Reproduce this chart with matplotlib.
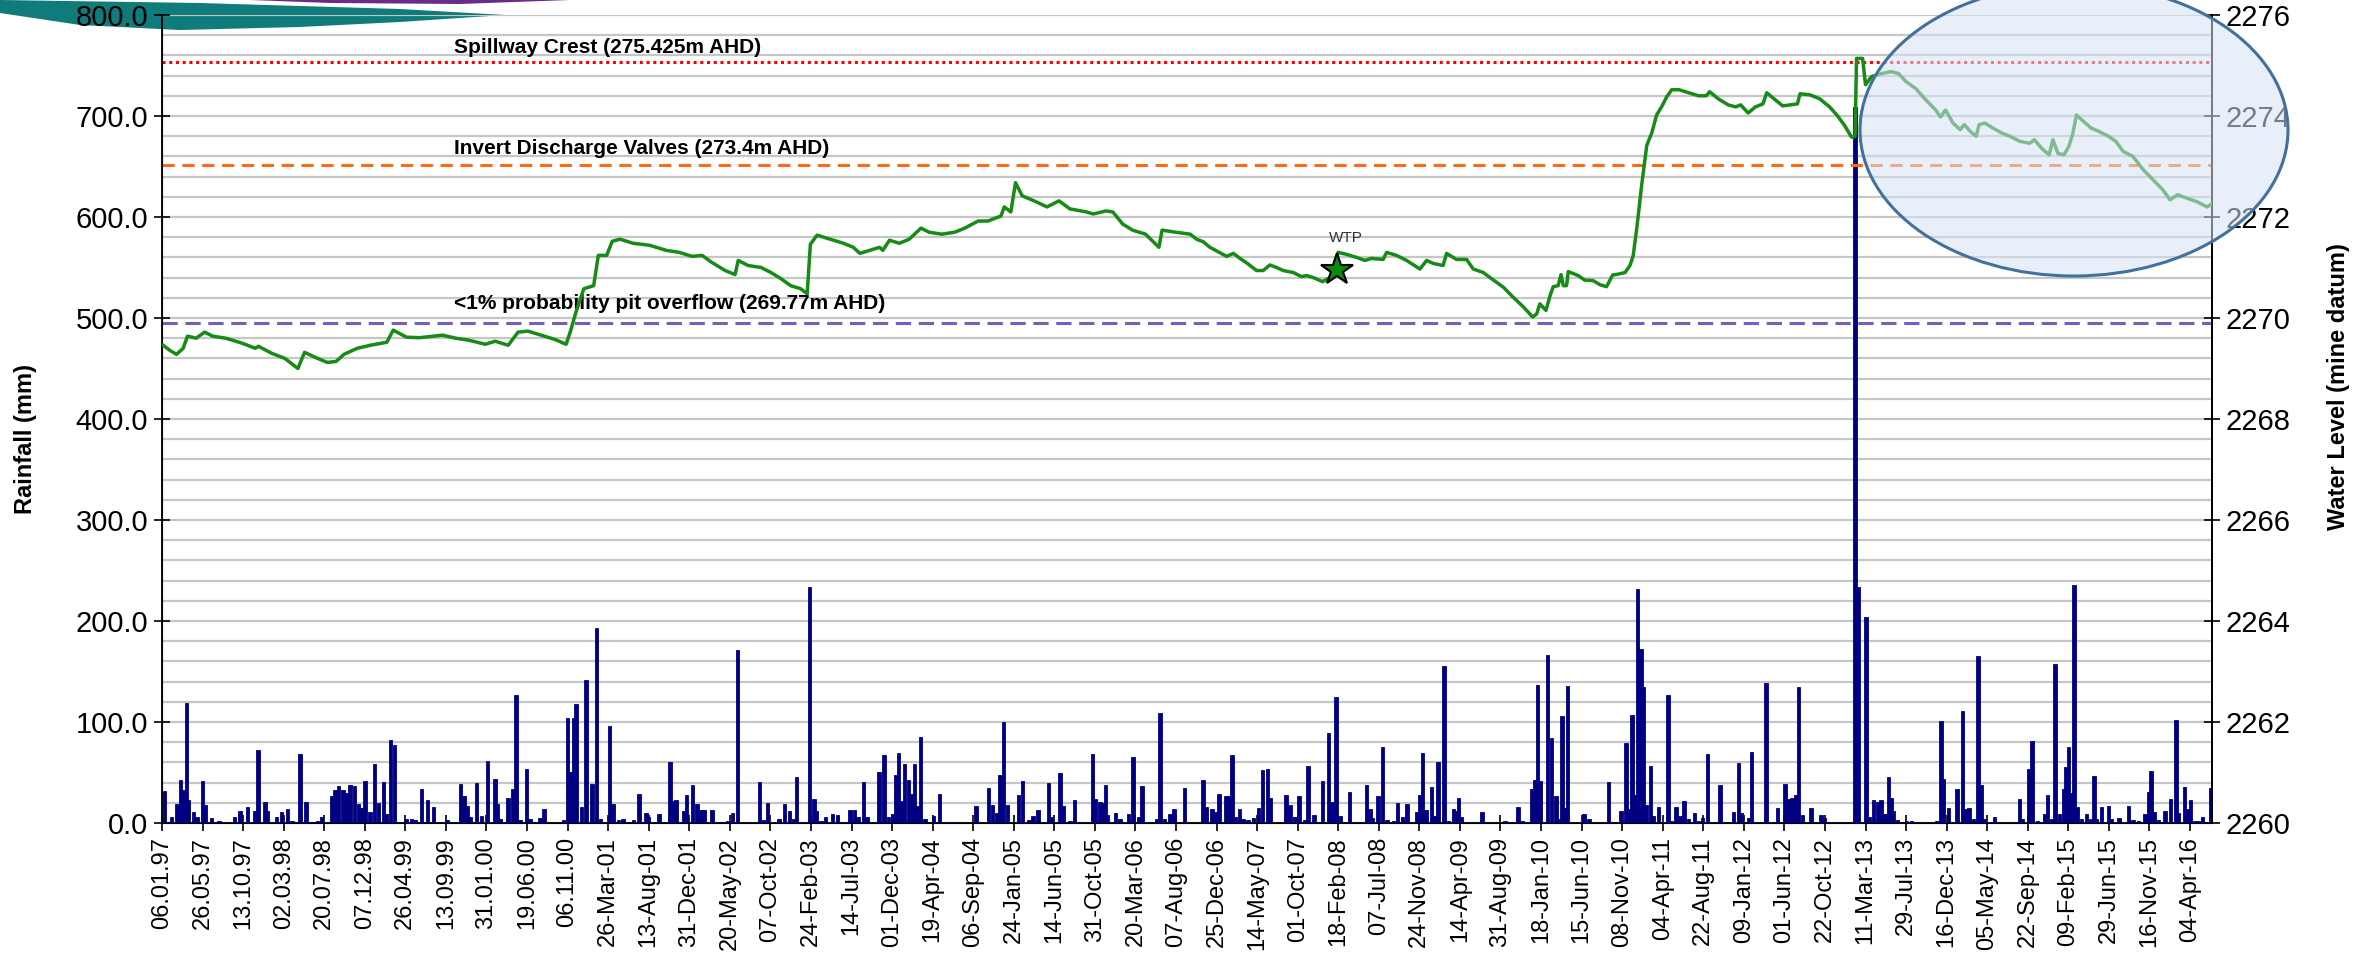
import numpy as np
import matplotlib
matplotlib.use("Agg")
import matplotlib.pyplot as plt
from matplotlib.patches import Ellipse, Polygon

plt.rcParams['font.family'] = ['Liberation Sans', 'DejaVu Sans']

# x axis is a record counter (one label every 140 records)
tick_labels = ['06.01.97', '26.05.97', '13.10.97', '02.03.98', '20.07.98', '07.12.98',
               '26.04.99', '13.09.99', '31.01.00', '19.06.00', '06.11.00', '26-Mar-01',
               '13-Aug-01', '31-Dec-01', '20-May-02', '07-Oct-02', '24-Feb-03', '14-Jul-03',
               '01-Dec-03', '19-Apr-04', '06-Sep-04', '24-Jan-05', '14-Jun-05', '31-Oct-05',
               '20-Mar-06', '07-Aug-06', '25-Dec-06', '14-May-07', '01-Oct-07', '18-Feb-08',
               '07-Jul-08', '24-Nov-08', '14-Apr-09', '31-Aug-09', '18-Jan-10', '15-Jun-10',
               '08-Nov-10', '04-Apr-11', '22-Aug-11', '09-Jan-12', '01-Jun-12', '22-Oct-12',
               '11-Mar-13', '29-Jul-13', '16-Dec-13', '05-May-14', '22-Sep-14', '09-Feb-15',
               '29-Jun-15', '16-Nov-15', '04-Apr-16']
tick_step = 140
last_record = 7076

# rainfall (mm)
rain_rec = [9, 33, 51, 64, 74, 85, 92, 108, 120, 140, 148, 171, 196, 251, 269, 296, 319, 331,
            356, 364, 396, 413, 433, 448, 476, 497, 537, 551, 586, 597, 609, 624, 635, 649,
            664, 678, 689, 700, 718, 734, 747, 764, 775, 789, 802, 842, 862, 873, 896, 916,
            937, 983, 1031, 1042, 1054, 1065, 1086, 1103, 1123, 1149, 1157, 1167, 1195, 1210,
            1222, 1236, 1259, 1270, 1305, 1318, 1385, 1399, 1408, 1420, 1429, 1448, 1463, 1484,
            1499, 1514, 1544, 1556, 1575, 1592, 1627, 1646, 1671, 1679, 1715, 1753, 1765,
            1774, 1800, 1811, 1832, 1846, 1861, 1872, 1898, 1953, 1969, 1987, 2063, 2076, 2090,
            2130, 2148, 2166, 2179, 2190, 2235, 2250, 2260, 2275, 2291, 2314, 2332, 2346, 2375,
            2390, 2402, 2421, 2433, 2475, 2492, 2507, 2522, 2533, 2542, 2553, 2563, 2576, 2588,
            2597, 2609, 2618, 2634, 2663, 2683, 2714, 2744, 2809, 2853, 2866, 2881, 2893, 2904,
            2919, 2956, 2970, 2993, 3006, 3023, 3060, 3071, 3100, 3111, 3134, 3149, 3172, 3212,
            3223, 3238, 3246, 3256, 3264, 3292, 3307, 3336, 3352, 3370, 3382, 3434, 3444, 3460,
            3480, 3493, 3508, 3529,
            3594, 3603, 3624, 3638, 3649, 3672, 3686, 3694, 3706, 3719, 3732, 3749, 3767, 3784,
            3799, 3816, 3824, 3879, 3893, 3910, 3925, 3945, 3956, 3977, 4006, 4027, 4038, 4052,
            4068, 4098, 4118, 4158, 4169, 4177, 4198, 4213, 4229, 4250, 4264, 4282, 4298, 4330,
            4340, 4350, 4363, 4382, 4394, 4404, 4425, 4440, 4457, 4468, 4475, 4486, 4538, 4557,
            4635, 4681, 4696, 4727, 4739, 4747, 4756, 4783, 4796, 4811, 4819, 4833, 4842, 4852,
            4908, 4926, 4992, 5009, 5036, 5053, 5065, 5074, 5085, 5093, 5105, 5113, 5122, 5138,
            5147, 5165, 5199, 5211, 5226, 5239, 5254, 5269, 5289, 5303, 5318,
            5335, 5378, 5424, 5441, 5450, 5476, 5487, 5537, 5577, 5602, 5614, 5627, 5639, 5648,
            5662, 5692, 5726, 5738, 5844, 5855, 5881, 5892, 5907, 5921, 5933, 5947, 5959, 5968,
            5976, 5991, 6022, 6039, 6091, 6126, 6141, 6149, 6166, 6195, 6215, 6223, 6238, 6252,
            6269, 6281, 6290, 6325, 6373, 6411, 6421, 6444, 6454, 6473, 6497, 6508, 6523, 6534,
            6549, 6563, 6571, 6580, 6589, 6599, 6612, 6626, 6643, 6657, 6669, 6678, 6695, 6718,
            6730, 6755, 6787, 6804, 6822, 6845, 6856, 6865, 6877, 6891, 6914, 6933, 6951, 6960,
            6981, 6991, 7002, 7017, 7029, 7043, 7070]
rain_mm = [32, 6, 18.5, 43, 33, 118.5, 23, 11, 6, 42, 17.5, 5, 2, 6, 12, 16, 12, 72,
           21, 12, 6, 11, 14, 2, 68.5, 21, 2, 6, 27, 33, 37, 33, 30, 38,
           37, 18.5, 15, 42, 11, 58, 20, 41, 9, 82, 77, 4, 4, 3, 34, 23,
           16, 3, 39, 27, 17, 6, 40, 7, 61.5, 44, 18.5, 4, 24.5, 34,
           127, 3, 53, 4, 5, 14, 3, 103.5, 50.6, 103.5, 118, 16, 142, 39,
           193, 4, 95.7, 18.5, 3, 4, 3, 28.5, 10, 6, 9, 60.6, 22,
           22.5, 12, 27.5, 38, 18.5, 13, 12.6, 13, 2, 10, 171.5, 41, 3, 20,
           4, 18.5, 12, 4, 45.7, 233.7, 24, 12, 2, 6, 9, 8, 1, 13,
           13, 6, 41, 6, 50.6, 67, 6, 9, 47.7, 69.5, 22, 58, 43, 28.5,
           58, 17, 85.4, 4, 7, 28.5, 1, 1, 17, 35, 17.5, 10, 48, 100,
           18, 27.5, 42, 3, 7, 13, 40, 6, 50, 17, 2, 23, 1, 68,
           24, 21, 19.5, 38, 8, 10, 4, 9, 65, 6, 37, 4, 109, 4,
           9, 14, 1, 34.4,
           43, 16, 14, 11, 29, 27, 27, 67.5, 6, 14, 4, 3, 5, 15,
           52.6, 53, 24.5, 27.5, 17.5, 6, 27, 3, 56, 8, 41.7, 89, 21, 124.5,
           7, 31, 1, 38, 13.6, 5, 27, 75.5, 3, 2, 19.5, 6, 18.5, 11,
           27.5, 69, 13, 36, 7, 60.6, 155, 2, 14, 12, 24.5, 6, 0.5, 11,
           1.5, 16, 2, 34, 42.7, 137, 42, 166.5, 84, 27, 4, 105.6, 15, 136,
           9, 4, 40.7, 1, 12, 78.8, 13.6, 107, 27.5, 232, 172.5, 135, 17.5, 56,
           7, 16, 127, 2, 16, 7, 22, 4, 10, 2, 5,
           68.5, 38, 11, 59.6, 10, 5, 70.5, 139, 15, 39, 24, 25, 27.5, 135,
           7.6, 15, 7.6, 5, 709, 233.7, 204, 6, 23, 21, 23, 9, 45.7, 25,
           12, 3, 2, 2, 1, 2, 101, 44, 15, 34, 111, 13.6, 15, 4,
           165, 38, 4, 6, 1, 24, 4, 53, 81, 2, 9, 27.5, 4, 157.6,
           9, 33.4, 55, 75.5, 30, 236, 16, 4, 9, 4, 46.7, 4, 16, 17,
           4, 5, 17, 3, 2, 9, 31, 51, 11, 3, 12, 24, 102, 10,
           35.4, 13.6, 23, 2, 2, 6, 34.4]

# pit water level (m, mine datum)
level_rec = [4, 27, 50, 73, 88, 118, 147, 175, 220, 277, 322, 333, 379, 424, 469, 492, 537,
             571, 601, 628, 674, 719, 776, 798, 844, 889, 968, 1014, 1059, 1116, 1150, 1195,
             1229, 1263, 1308, 1354, 1395, 1411, 1429, 1456, 1490, 1506, 1535, 1554, 1581,
             1626, 1683, 1740, 1785, 1830, 1864, 1898, 1944, 1978, 1989, 2023, 2068, 2102,
             2136, 2170, 2204, 2227, 2238, 2261, 2307, 2352, 2386, 2409, 2443, 2477, 2488,
             2511, 2545, 2579, 2620, 2647, 2692, 2737, 2771, 2817, 2851, 2896, 2907, 2930,
             2946, 2969, 3010, 3055, 3096, 3134, 3191, 3214, 3259, 3282, 3316, 3350, 3395,
             3441, 3452, 3497, 3549, 3571, 3594, 3617, 3646, 3675, 3698, 3721, 3749, 3778,
             3801, 3824, 3847, 3870, 3905, 3933, 3951, 3974, 4006, 4031, 4060, 4089, 4123,
             4152, 4175, 4215, 4227, 4261, 4296, 4342, 4365, 4388, 4422, 4434, 4468, 4503,
             4526, 4561, 4584, 4630, 4664, 4699, 4731, 4745, 4756, 4777, 4791, 4802, 4819,
             4829, 4837, 4848, 4854, 4888, 4911, 4940, 4963, 4986, 5007, 5027, 5050, 5067,
             5078, 5091, 5108, 5125, 5142, 5159, 5176, 5194, 5211, 5236, 5270, 5304, 5330,
             5342, 5372, 5406, 5432, 5449, 5475, 5500, 5526, 5539, 5560, 5594, 5619, 5645,
             5654, 5688, 5722, 5756, 5781, 5807, 5832, 5844, 5849, 5870, 5880, 5901, 5935,
             5969, 5994, 6020, 6054, 6088, 6122, 6139, 6156, 6182, 6207, 6221, 6241, 6262,
             6272, 6292, 6326, 6352, 6378, 6412, 6446, 6463, 6488, 6514, 6527, 6544, 6565,
             6582, 6596, 6608, 6633, 6659, 6684, 6718, 6744, 6769, 6803, 6838, 6872, 6906,
             6931, 6957, 6991, 7025, 7059, 7076]
level_m = [2269.46, 2269.36, 2269.28, 2269.40, 2269.64, 2269.60, 2269.72, 2269.64, 2269.60,
           2269.50, 2269.40, 2269.44, 2269.30, 2269.20, 2269.00, 2269.32, 2269.20, 2269.12,
           2269.14, 2269.28, 2269.40, 2269.46, 2269.52, 2269.76, 2269.62, 2269.61, 2269.66,
           2269.60, 2269.56, 2269.48, 2269.54, 2269.46, 2269.72, 2269.74, 2269.66, 2269.58,
           2269.48, 2269.76, 2270.12, 2270.58, 2270.64, 2271.24, 2271.24, 2271.52, 2271.56,
           2271.48, 2271.44, 2271.34, 2271.30, 2271.22, 2271.24, 2271.10, 2270.94, 2270.86,
           2271.14, 2271.04, 2271.00, 2270.90, 2270.78, 2270.64, 2270.58, 2270.48, 2271.46,
           2271.64, 2271.56, 2271.48, 2271.40, 2271.28, 2271.34, 2271.40, 2271.34, 2271.54,
           2271.48, 2271.56, 2271.78, 2271.70, 2271.66, 2271.70, 2271.78, 2271.92, 2271.92,
           2272.02, 2272.20, 2272.10, 2272.68, 2272.42, 2272.32, 2272.20, 2272.32, 2272.16,
           2272.10, 2272.06, 2272.12, 2272.10, 2271.86, 2271.74, 2271.66, 2271.40, 2271.74,
           2271.70, 2271.66, 2271.56, 2271.51, 2271.40, 2271.31, 2271.22, 2271.28, 2271.18,
           2271.07, 2270.94, 2270.94, 2271.05, 2271.00, 2270.94, 2270.90, 2270.82, 2270.84,
           2270.80, 2270.72, 2270.80, 2271.30, 2271.26, 2271.20, 2271.14, 2271.18, 2271.16,
           2271.30, 2271.24, 2271.14, 2270.97, 2271.14, 2271.08, 2271.04, 2271.28, 2271.16,
           2271.16, 2270.97, 2270.90, 2270.80, 2270.61, 2270.41, 2270.22, 2270.02, 2270.08,
           2270.28, 2270.15, 2270.44, 2270.62, 2270.64, 2270.86, 2270.64, 2270.64, 2270.92,
           2270.84, 2270.75, 2270.74, 2270.66, 2270.62, 2270.85, 2270.87, 2270.90, 2271.04,
           2271.23, 2271.80, 2272.66, 2273.42, 2273.66, 2274.02, 2274.18, 2274.38, 2274.52,
           2274.52, 2274.46, 2274.40, 2274.40, 2274.48, 2274.34, 2274.22, 2274.18, 2274.22,
           2274.06, 2274.18, 2274.24, 2274.46, 2274.36, 2274.20, 2274.22, 2274.24, 2274.44,
           2274.42, 2274.34, 2274.18, 2274.02, 2273.82, 2273.58, 2273.60, 2275.14, 2275.14,
           2274.62, 2274.78, 2274.84, 2274.88, 2274.84, 2274.68, 2274.54, 2274.32, 2274.12,
           2273.98, 2274.12, 2273.86, 2273.73, 2273.83, 2273.70, 2273.60, 2273.83, 2273.86,
           2273.74, 2273.66, 2273.60, 2273.50, 2273.46, 2273.53, 2273.36, 2273.23, 2273.53,
           2273.26, 2273.23, 2273.40, 2273.66, 2274.02, 2273.89, 2273.76, 2273.70, 2273.60,
           2273.50, 2273.30, 2273.20, 2272.94, 2272.74, 2272.54, 2272.34, 2272.44, 2272.37,
           2272.30, 2272.20, 2272.26]

# reference levels
spillway_m = 2275.07
invert_m = 2273.03
overflow_m = 2269.90
wtp_rec, wtp_m = 4055, 2270.96

W, H = 2374, 961
fig = plt.figure(figsize=(W / 100, H / 100), dpi=100)
ax = fig.add_axes([162 / W, 1 - 823 / H, 2050 / W, 808 / H])
ax.set_facecolor('none')

# banner swoosh at the top left (behind the plot)
teal = [(0, 0), (200, 3), (400, 9), (505, 15), (400, 22), (300, 27), (180, 30), (80, 25),
        (0, 13)]
fig.patches.append(Polygon([(x / W, 1 - y / H) for x, y in teal], closed=True,
                           transform=fig.transFigure, fc='#0f7b7b', ec='none', zorder=-5))
purple = [(250, 0), (570, 0), (460, 4), (330, 3)]
fig.patches.append(Polygon([(x / W, 1 - y / H) for x, y in purple], closed=True,
                           transform=fig.transFigure, fc='#6a2c8a', ec='none', zorder=-5))

ax.bar(rain_rec, rain_mm, width=12, color='#000080', edgecolor='#000080', linewidth=0.6, zorder=3)
ax.set_ylim(0, 800)
ax.set_xlim(0, last_record)
ax.set_yticks(np.arange(0, 801, 100))
ax.set_yticklabels([f'{v:.1f}' for v in np.arange(0, 801, 100)])
ax.set_yticks(np.arange(0, 801, 20), minor=True)
ax.yaxis.grid(True, which='both', color='#c6c6c6', lw=1.6, zorder=0)
ax.set_axisbelow(True)
ax.set_xticks(np.arange(len(tick_labels)) * tick_step)
ax.set_xticklabels(tick_labels, rotation=90)
ax.tick_params(axis='y', which='major', direction='inout', length=12, width=1.2,
               labelsize=21, pad=4)
ax.tick_params(axis='x', which='major', direction='inout', length=12, width=1.2,
               labelsize=17, pad=4)
ax.tick_params(axis='y', which='minor', length=0)
ax.spines['top'].set_visible(False)
for s in ('left', 'bottom', 'right'):
    ax.spines[s].set_linewidth(1.3)
ax.set_ylabel('Rainfall (mm)', fontsize=17, fontweight='bold')
ax.yaxis.set_label_coords(-0.061, 0.475)

ax2 = ax.twinx()
ax2.set_ylim(2260, 2276)
ax2.set_yticks(np.arange(2260, 2277, 2))
ax2.tick_params(axis='y', direction='inout', length=12, width=1.2, labelsize=21, pad=4)
ax2.spines['top'].set_visible(False)
ax2.spines['right'].set_linewidth(1.3)
ax2.set_ylabel('Water Level (mine datum)', fontsize=17, fontweight='bold')
ax2.yaxis.set_label_coords(1.056, 0.54)

ax2.axhline(spillway_m, color='#ff0000', ls=(0, (1, 1.2)), lw=2.2, zorder=2)
ax2.axhline(invert_m, color='#ff6a13', ls=(0, (4, 2.5)), lw=2.2, zorder=2)
ax2.axhline(overflow_m, color='#7060c0', ls=(0, (5, 2.5)), lw=2.2, zorder=2)

ax2.plot(level_rec, level_m, color='#178a17', lw=2.5, zorder=4)
ax2.plot([wtp_rec], [wtp_m], marker='*', ms=24, mfc='#0a8a0a', mec='black', mew=1.5, zorder=5)
ax2.text(wtp_rec + 30, 2271.58, 'WTP', fontsize=11, color='#333333', ha='center', va='center')

ax2.text(1008, 2275.17, 'Spillway Crest (275.425m AHD)', fontsize=15, fontweight='bold', va='bottom')
ax2.text(1008, 2273.17, 'Invert Discharge Valves (273.4m AHD)', fontsize=15, fontweight='bold', va='bottom')
ax2.text(1008, 2270.10, '<1% probability pit overflow (269.77m AHD)', fontsize=15, fontweight='bold',
         va='bottom')

# highlight ellipse over the recent record
fig.patches.append(Ellipse((2074 / W, 1 - 130 / H), 428 / W, 292 / H, transform=fig.transFigure,
                           fc=(0.84, 0.89, 0.96, 0.55), ec='#41719c', lw=2.2, zorder=10))

fig.savefig('out.png', dpi=100)
